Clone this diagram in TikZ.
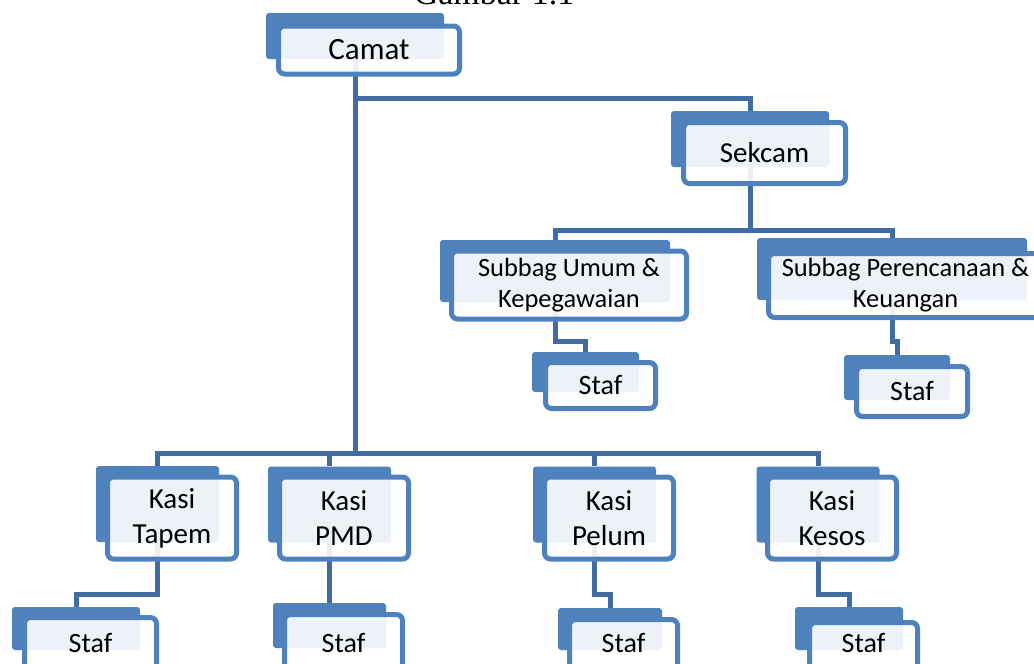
\documentclass[tikz,border=0pt]{standalone}
\usepackage{fontspec}
\setmainfont{Carlito}
\newfontfamily\judulfont{Liberation Serif}
\usepackage{xcolor}
\usetikzlibrary{backgrounds}

\definecolor{boxblue}{RGB}{79,129,189}
\definecolor{linkblue}{RGB}{64,107,163}

\begin{document}
\begin{tikzpicture}[x=1pt, y=-1pt,
    boxback/.style={fill=boxblue, rounded corners=3pt, inner sep=0pt},
    boxfront/.style={draw=boxblue, line width=5pt, rounded corners=6pt, fill=white,
      fill opacity=0.9, text opacity=1, align=center, inner sep=0pt},
    conn/.style={draw=linkblue, line width=5pt},
    subbag/.style={boxfront, font=\fontsize{26.4}{31}\selectfont},
    kasiback/.style={boxback, minimum width=123pt, minimum height=76pt},
    kasi/.style={boxfront, minimum width=129pt, minimum height=82pt, font=\fontsize{29}{35}\selectfont},
    staf/.style={boxfront, font=\fontsize{28}{34}\selectfont}
  ]
  \useasboundingbox (0,0) rectangle (1034,664);
  \clip (0,0) rectangle (1034,664);
  % caption, cut off by the top edge
  \node[anchor=base, font=\judulfont\fontsize{34}{40}\selectfont] (judul) at (494,4) {Gambar 1.1};
  % levels of the connector buses
  \coordinate (busA) at (0,98);
  \coordinate (busB) at (0,230);
  \coordinate (busD) at (0,341);
  \coordinate (busC) at (0,453);
  \coordinate (busE) at (0,594);
  % Camat
  \node[boxback, minimum width=178pt, minimum height=46pt] (camatbg) at (355,36) {};
  \node[boxfront, minimum width=181pt, minimum height=48pt, font=\fontsize{31}{37}\selectfont] (camat) at (369,50) {Camat};
  % Sekcam
  \node[boxback, minimum width=158pt, minimum height=56pt] (sekcambg) at (750,139) {};
  \node[boxfront, minimum width=162pt, minimum height=61pt, font=\fontsize{29}{35}\selectfont] (sekcam) at (764.5,153) {Sekcam};
  % Subbag
  \node[boxback, minimum width=230pt, minimum height=62pt] (umumbg) at (555,271) {};
  \node[subbag, minimum width=235pt, minimum height=68pt] (umum) at (569,285) {Subbag Umum \&\\Kepegawaian};
  \node[boxback, minimum width=270pt, minimum height=62pt] (renbg) at (892,269) {};
  \node[subbag, minimum width=274pt, minimum height=64pt] (ren) at (905.5,285.5) {Subbag Perencanaan \&\\Keuangan};
  % Staf of the Subbag
  \node[boxback, minimum width=107pt, minimum height=40pt] (stafubg) at (585.5,372) {};
  \node[staf, minimum width=110pt, minimum height=46pt] (stafu) at (600.5,385.5) {Staf};
  \node[boxback, minimum width=106pt, minimum height=45pt] (stafrbg) at (897,377.5) {};
  \node[staf, minimum width=111pt, minimum height=50pt] (stafr) at (912,391.5) {Staf};
  % Kasi
  \node[kasiback] (tapembg) at (157.5,504) {};
  \node[kasi] (tapem) at (172,518) {Kasi\\Tapem};
  \node[kasiback] (pmdbg) at (329.5,504.5) {};
  \node[kasi] (pmd) at (344,518) {Kasi\\PMD};
  \node[kasiback] (pelumbg) at (594.5,504.5) {};
  \node[kasi] (pelum) at (609,518) {Kasi\\Pelum};
  \node[kasiback] (kesosbg) at (818,504.5) {};
  \node[kasi] (kesos) at (832,518) {Kasi\\Kesos};
  % Staf of the Kasi, their lower edge lies below the picture
  \node[boxback, minimum width=128pt, minimum height=43pt] (staftbg) at (76,628.5) {};
  \node[staf, minimum width=132pt, minimum height=56pt, text depth=6pt] (staft) at (90.5,645.5) {Staf};
  \node[boxback, minimum width=113pt, minimum height=45pt] (stafmbg) at (329.5,625.5) {};
  \node[staf, minimum width=118pt, minimum height=59pt, text depth=3pt] (stafm) at (343.5,644) {Staf};
  \node[boxback, minimum width=104pt, minimum height=42pt] (staflbg) at (610,629) {};
  \node[staf, minimum width=108pt, minimum height=54pt, text depth=8pt] (stafl) at (623.5,646.5) {Staf};
  \node[boxback, minimum width=108pt, minimum height=43pt] (stafkbg) at (849,628.5) {};
  \node[staf, minimum width=108pt, minimum height=51pt, text depth=11pt] (stafk) at (863.5,648) {Staf};
  % connectors, behind the boxes
  \begin{scope}[on background layer]
    \foreach \up/\down/\bus in {camatbg/sekcambg/busA, sekcambg/umumbg/busB, sekcambg/renbg/busB,
        umumbg/stafubg/busD, renbg/stafrbg/busD, camatbg/tapembg/busC, camatbg/pmdbg/busC,
        camatbg/pelumbg/busC, camatbg/kesosbg/busC, tapembg/staftbg/busE, pmdbg/stafmbg/busE,
        pelumbg/staflbg/busE, kesosbg/stafkbg/busE}
      \draw[conn] (\up.south) |- (\bus -| \down.north) -- (\down.north);
  \end{scope}
\end{tikzpicture}
\end{document}
